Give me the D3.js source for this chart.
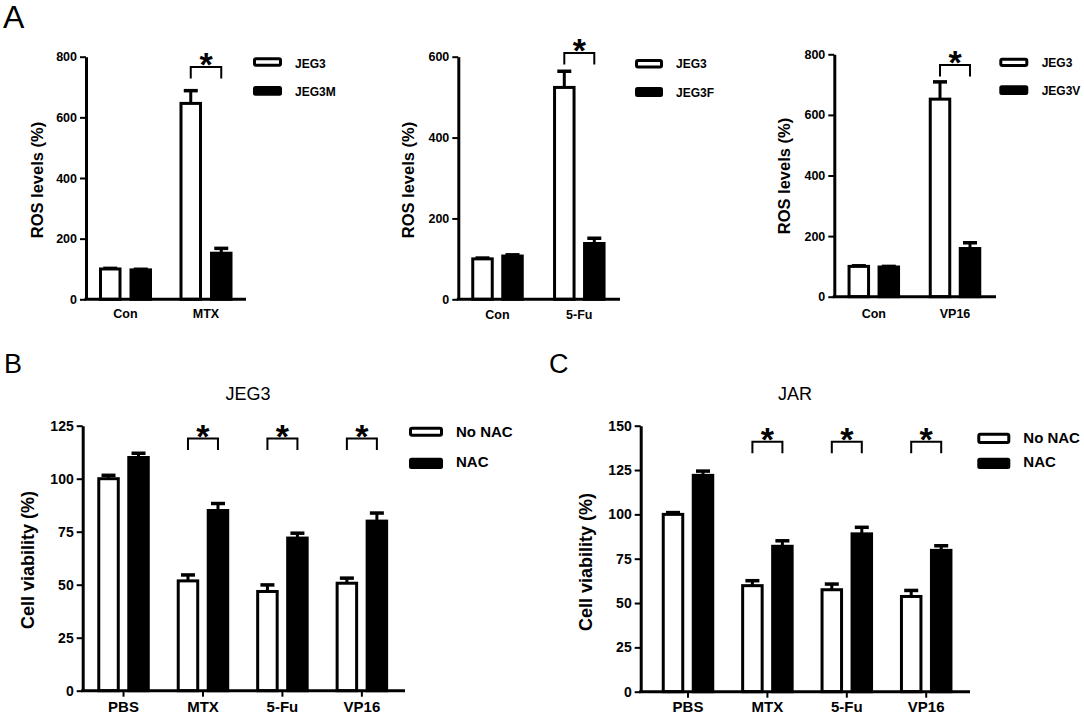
<!DOCTYPE html>
<html><head><meta charset="utf-8">
<script src="https://cdn.jsdelivr.net/npm/d3@7"></script>
<style>body{margin:0;background:#fff} svg{display:block}</style>
</head><body>
<svg id="fig" width="1084" height="715"></svg>
<script>
// ---------------- DATA ----------------
// Panel A (ROS levels, %)
const rosCategoriesMTX = ["Con", "MTX"];
const rosSeriesMTX = ["JEG3", "JEG3M"];
const rosMTX_JEG3 = [100, 646];
const rosMTX_JEG3_err = [2, 42];
const rosMTX_JEG3M = [97, 152];
const rosMTX_JEG3M_err = [2, 16];
const rosTicksMTX = [0, 200, 400, 600, 800];
const rosSigMTX = ["MTX"];

const rosCategoriesFU = ["Con", "5-Fu"];
const rosSeriesFU = ["JEG3", "JEG3F"];
const rosFU_JEG3 = [100, 524];
const rosFU_JEG3_err = [2, 40];
const rosFU_JEG3F = [107, 138];
const rosFU_JEG3F_err = [3, 13];
const rosTicksFU = [0, 200, 400, 600];
const rosSigFU = ["5-Fu"];

const rosCategoriesVP = ["Con", "VP16"];
const rosSeriesVP = ["JEG3", "JEG3V"];
const rosVP_JEG3 = [100, 652];
const rosVP_JEG3_err = [2, 57];
const rosVP_JEG3V = [98, 159];
const rosVP_JEG3V_err = [2, 19];
const rosTicksVP = [0, 200, 400, 600, 800];
const rosSigVP = ["VP16"];

// Panels B and C (Cell viability, %)
const viabCategories = ["PBS", "MTX", "5-Fu", "VP16"];
const viabSeries = ["No NAC", "NAC"];
const viabSig = ["MTX", "5-Fu", "VP16"];

const jeg3NoNAC = [100, 51.8, 46.8, 50.7];
const jeg3NoNAC_err = [1.6, 2.8, 3.1, 2.4];
const jeg3NAC = [110, 85, 72, 80];
const jeg3NAC_err = [2.0, 3.3, 2.3, 3.8];
const jeg3Ticks = [0, 25, 50, 75, 100, 125];

const jarNoNAC = [100, 59.8, 57.5, 53.7];
const jarNoNAC_err = [1.0, 2.8, 3.2, 3.4];
const jarNAC = [122, 82, 89, 79.7];
const jarNAC_err = [2.4, 3.1, 3.7, 2.6];
const jarTicks = [0, 25, 50, 75, 100, 125, 150];

// ---------------- DRAWING ----------------
const FONT = "'Liberation Sans', Arial, Helvetica, sans-serif";
const svg = d3.select("#fig");
svg.append("rect").attr("width", 1084).attr("height", 715).attr("fill", "#fff");

function drawPanel(p) {
  const g = svg.append("g");
  const y = d3.scaleLinear().domain([0, p.yMax]).range([p.y0, p.yTop]);
  const x0 = d3.scaleBand().domain(p.categories).range(p.band);
  const x1 = d3.scalePoint().domain(p.series).range([-p.off, p.off]);
  const cx = (c, s) => x0(c) + x0.bandwidth() / 2 + x1(s);
  const bw = 19.5;

  // bars + error bars
  p.series.forEach((s, si) => {
    const data = p.categories.map((c, i) => ({ c, v: p.values[si][i], e: p.errors[si][i] }));
    const eg = g.append("g");
    eg.selectAll("line.err").data(data).join("line").attr("class", "err")
      .attr("x1", d => cx(d.c, s)).attr("x2", d => cx(d.c, s))
      .attr("y1", d => y(d.v)).attr("y2", d => y(d.v + d.e))
      .attr("stroke", "#000").attr("stroke-width", 3);
    eg.selectAll("line.cap").data(data).join("line").attr("class", "cap")
      .attr("x1", d => cx(d.c, s) - 7).attr("x2", d => cx(d.c, s) + 7)
      .attr("y1", d => y(d.v + d.e)).attr("y2", d => y(d.v + d.e))
      .attr("stroke", "#000").attr("stroke-width", 3.5);
    g.append("g").selectAll("rect").data(data).join("rect")
      .attr("x", d => cx(d.c, s) - bw / 2).attr("y", d => y(d.v))
      .attr("width", bw).attr("height", d => p.y0 - y(d.v))
      .attr("fill", si === 0 ? "#fff" : "#000")
      .attr("stroke", "#000").attr("stroke-width", 3);
  });

  // y axis
  const ya = g.append("g").attr("transform", `translate(${p.axisX},0)`)
    .call(d3.axisLeft(y).tickValues(p.ticks).tickSize(6).tickSizeOuter(0).tickPadding(3).tickFormat(d3.format("d")));
  ya.select(".domain").attr("stroke-width", 3);
  ya.selectAll(".tick line").attr("stroke-width", 2);
  ya.selectAll(".tick text").attr("font-family", FONT).attr("font-weight", "bold")
    .attr("font-size", p.tickFont).attr("fill", "#000");

  // x axis line
  g.append("line").attr("x1", p.axisX - 1.5).attr("x2", p.axisEnd)
    .attr("y1", p.y0).attr("y2", p.y0).attr("stroke", "#000").attr("stroke-width", 3);
  const xa = g.append("g").attr("transform", `translate(0,${p.y0})`)
    .call(d3.axisBottom(x0).tickSize(p.xTick).tickSizeOuter(0));
  xa.select(".domain").remove();
  xa.selectAll(".tick line").attr("stroke-width", 2);
  xa.selectAll(".tick text").attr("font-family", FONT).attr("font-weight", "bold")
    .attr("font-size", p.catFont).attr("fill", "#000").attr("y", p.catY).attr("dy", 0);

  // y title
  g.append("text").attr("transform", `translate(${p.ytX},${p.ytY}) rotate(-90)`)
    .attr("text-anchor", "middle").attr("font-family", FONT).attr("font-weight", "bold")
    .attr("font-size", p.ytFont).text(p.yTitle);

  // significance brackets
  const starFs = 34;
  p.sig.forEach(c => {
    const xa_ = cx(c, p.series[0]), xb = cx(c, p.series[1]);
    const yt = y(p.sigY);
    g.append("path").attr("d", `M${xa_},${yt + 11.5}V${yt}H${xb}V${yt + 11.5}`)
      .attr("fill", "none").attr("stroke", "#000").attr("stroke-width", 2);
    g.append("text").attr("x", (xa_ + xb) / 2).attr("y", yt - 9.5 + 0.55 * starFs)
      .attr("text-anchor", "middle").attr("font-family", FONT).attr("font-weight", "bold")
      .attr("font-size", starFs).text("*");
  });

  // legend
  p.series.forEach((s, si) => {
    const L = p.legend[si];
    if (si === 0) {
      g.append("rect").attr("x", L.x + 1.5).attr("y", L.y + 1.5).attr("width", L.w - 3).attr("height", L.h - 3)
        .attr("rx", 1.5).attr("fill", "#fff").attr("stroke", "#000").attr("stroke-width", 3);
    } else {
      g.append("rect").attr("x", L.x).attr("y", L.y).attr("width", L.w).attr("height", L.h)
        .attr("rx", 2.5).attr("fill", "#000");
    }
    g.append("text").attr("x", L.tx).attr("y", L.ty).attr("font-family", FONT).attr("font-weight", "bold")
      .attr("font-size", p.legFont).text(s);
  });

  if (p.title) {
    g.append("text").attr("x", p.title.x).attr("y", p.title.y).attr("text-anchor", "middle")
      .attr("font-family", FONT).attr("font-size", 18).text(p.title.text);
  }
}

// Panel A1 (MTX)
drawPanel({
  categories: rosCategoriesMTX, series: rosSeriesMTX,
  values: [rosMTX_JEG3, rosMTX_JEG3M], errors: [rosMTX_JEG3_err, rosMTX_JEG3M_err],
  ticks: rosTicksMTX, yMax: 800, sig: rosSigMTX, sigY: 766,
  y0: 299.3, yTop: 56.7, axisX: 86, axisEnd: 246, band: [85.25, 246.25], off: 15.25,
  xTick: 0, catY: 19, tickFont: 12.5, catFont: 12.5, legFont: 12,
  yTitle: "ROS levels (%)", ytX: 42.5, ytY: 180, ytFont: 16.5,
  legend: [{ x: 253, y: 57.3, w: 29, h: 9.5, tx: 295, ty: 67.5 },
           { x: 253, y: 86, w: 29, h: 9.7, tx: 295, ty: 95.7 }]
});
// Panel A2 (5-Fu)
drawPanel({
  categories: rosCategoriesFU, series: rosSeriesFU,
  values: [rosFU_JEG3, rosFU_JEG3F], errors: [rosFU_JEG3_err, rosFU_JEG3F_err],
  ticks: rosTicksFU, yMax: 600, sig: rosSigFU, sigY: 609,
  y0: 299.3, yTop: 56.7, axisX: 458.3, axisEnd: 620, band: [456.6, 620.2], off: 15,
  xTick: 0, catY: 20, tickFont: 12.5, catFont: 12.5, legFont: 12,
  yTitle: "ROS levels (%)", ytX: 414, ytY: 180, ytFont: 16.5,
  legend: [{ x: 635, y: 59, w: 28, h: 9.5, tx: 676, ty: 68.3 },
           { x: 635, y: 87, w: 28, h: 10, tx: 676, ty: 96.7 }]
});
// Panel A3 (VP16)
drawPanel({
  categories: rosCategoriesVP, series: rosSeriesVP,
  values: [rosVP_JEG3, rosVP_JEG3V], errors: [rosVP_JEG3_err, rosVP_JEG3V_err],
  ticks: rosTicksVP, yMax: 800, sig: rosSigVP, sigY: 765,
  y0: 296.7, yTop: 54.3, axisX: 834.3, axisEnd: 996, band: [833.2, 995.6], off: 15,
  xTick: 0, catY: 21, tickFont: 12.5, catFont: 12.5, legFont: 12,
  yTitle: "ROS levels (%)", ytX: 789.5, ytY: 176, ytFont: 16.5,
  legend: [{ x: 999.3, y: 57.7, w: 29, h: 9.2, tx: 1041.7, ty: 66.7 },
           { x: 999.3, y: 85.3, w: 29, h: 9.7, tx: 1041.7, ty: 95 }]
});
// Panel B (JEG3)
drawPanel({
  categories: viabCategories, series: viabSeries,
  values: [jeg3NoNAC, jeg3NAC], errors: [jeg3NoNAC_err, jeg3NAC_err],
  ticks: jeg3Ticks, yMax: 125, sig: viabSig, sigY: 119,
  y0: 690.7, yTop: 425.7, axisX: 82.7, axisEnd: 405, band: [83.8, 401.6], off: 15,
  xTick: 6, catY: 21, tickFont: 14, catFont: 15, legFont: 15,
  yTitle: "Cell viability (%)", ytX: 33.5, ytY: 560, ytFont: 18,
  title: { text: "JEG3", x: 248, y: 400 },
  legend: [{ x: 409, y: 426.7, w: 34, h: 10, tx: 456, ty: 437.3 },
           { x: 409, y: 457.7, w: 34, h: 11.3, tx: 456, ty: 467 }]
});
// Panel C (JAR)
drawPanel({
  categories: viabCategories, series: viabSeries,
  values: [jarNoNAC, jarNAC], errors: [jarNoNAC_err, jarNAC_err],
  ticks: jarTicks, yMax: 150, sig: viabSig, sigY: 141,
  y0: 691.7, yTop: 425.7, axisX: 640.7, axisEnd: 970, band: [648.3, 965.9], off: 15,
  xTick: 6, catY: 20.5, tickFont: 14, catFont: 15, legFont: 15,
  yTitle: "Cell viability (%)", ytX: 591.7, ytY: 562, ytFont: 18,
  title: { text: "JAR", x: 795, y: 400 },
  legend: [{ x: 977.3, y: 432.7, w: 33, h: 11.3, tx: 1023.3, ty: 443.3 },
           { x: 977.3, y: 457.7, w: 33, h: 11.3, tx: 1023.3, ty: 467.3 }]
});

// panel letters
[["A", 3, 28, 32], ["B", 4, 373, 27], ["C", 549, 373, 27]].forEach(([t, x, yy, fs]) => {
  svg.append("text").attr("x", x).attr("y", yy).attr("font-family", FONT)
    .attr("font-size", fs).text(t);
});
</script>
</body></html>
